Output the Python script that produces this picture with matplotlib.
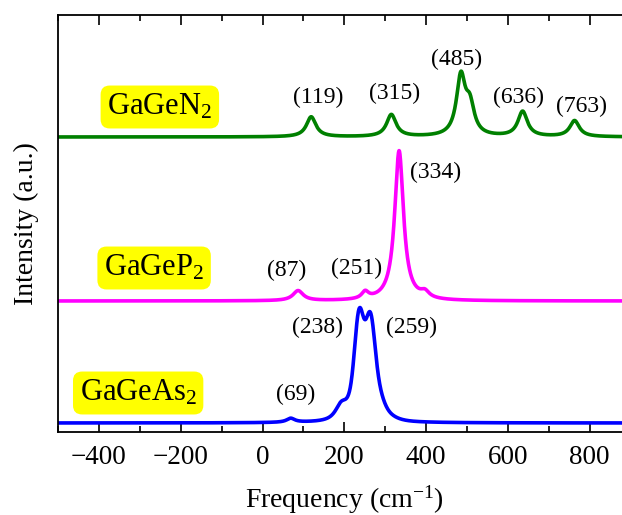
import numpy as np
import matplotlib
matplotlib.use("Agg")
import matplotlib.pyplot as plt
from matplotlib.ticker import MultipleLocator

plt.rcParams['font.family'] = ['Liberation Serif', 'DejaVu Serif']
plt.rcParams['mathtext.fontset'] = 'custom'
plt.rcParams['mathtext.rm'] = 'Liberation Serif'
plt.rcParams['mathtext.it'] = 'Liberation Serif:italic'

# ---- data: peak positions (cm^-1), amplitudes (a.u.), FWHM (cm^-1), Lorentz fraction ----
freq = np.linspace(-500, 900, 2801)

n_pos = [119, 315, 485, 507, 636, 763]
n_amp = [20, 22, 58, 28, 25, 16]
n_fwhm = [28, 28, 26, 26, 28, 28]
n_eta = [1, 1, 1, 1, 1, 1]
n_off = 295

p_pos = [87, 251, 334, 397]
p_amp = [10, 7, 150, 6]
p_fwhm = [30, 20, 26, 25]
p_eta = [1, 1, 1, 1]
p_off = 131

as_pos = [69, 192, 236, 264, 250, 250, 282]
as_amp = [4, 10, 70, 63, 28, 20, 10]
as_fwhm = [24, 30, 24.7, 24.7, 60, 85, 30]
as_eta = [1, 0.7, 0, 0, 1, 0, 0]
as_off = 9

names = ['GaGeN$_2$', 'GaGeP$_2$', 'GaGeAs$_2$']
colors = ['#008000', '#ff00ff', '#0000ff']

n_labels = ['(119)', '(315)', '(485)', '(636)', '(763)']
n_lab_x = [137, 324, 475, 627, 779]
n_lab_y = [335, 339, 373, 335, 326]
p_lab = ['(87)', '(251)', '(334)']
p_lab_x = [60, 231, 423]
p_lab_y = [162, 164, 260]
as_lab = ['(238)', '(259)', '(69)']
as_lab_x = [134, 364, 82]
as_lab_y = [105, 105, 38]


def spectrum(x, pos, amp, fwhm, eta):
    y = np.zeros_like(x)
    for p, a, w, e in zip(pos, amp, fwhm, eta):
        lor = 1 / (1 + ((x - p) / (w / 2)) ** 2)
        gau = np.exp(-4 * np.log(2) * ((x - p) / w) ** 2)
        y += a * (e * lor + (1 - e) * gau)
    return y


fig = plt.figure(figsize=(6.22, 5.15), dpi=100)
W, H = 622, 515
x0, y0, y1 = 58, 432, 15
ppu = 0.409
ax = fig.add_axes([x0 / W, (H - y0) / H, 1400 * ppu / W, (y0 - y1) / H])

ax.plot(freq, n_off + spectrum(freq, n_pos, n_amp, n_fwhm, n_eta), color=colors[0], lw=2.6)
ax.plot(freq, p_off + spectrum(freq, p_pos, p_amp, p_fwhm, p_eta), color=colors[1], lw=2.6)
ax.plot(freq, as_off + spectrum(freq, as_pos, as_amp, as_fwhm, as_eta), color=colors[2], lw=2.6)

ax.set_xlim(-500, 900)
ax.set_ylim(0, 417)
ax.xaxis.set_major_locator(MultipleLocator(200))
ax.xaxis.set_minor_locator(MultipleLocator(100))
ax.set_yticks([])
ax.tick_params(axis='x', which='both', direction='in', top=True, labelsize=19.5, width=1.2)
ax.tick_params(axis='x', which='major', length=7, pad=9)
ax.tick_params(axis='x', which='minor', length=4)
for s in ax.spines.values():
    s.set_linewidth(1.3)

for t, x, y in zip(n_labels, n_lab_x, n_lab_y):
    ax.text(x, y, t, ha='center', va='center', fontsize=17)
for t, x, y in zip(p_lab, p_lab_x, p_lab_y):
    ax.text(x, y, t, ha='center', va='center', fontsize=17)
for t, x, y in zip(as_lab, as_lab_x, as_lab_y):
    ax.text(x, y, t, ha='center', va='center', fontsize=17)

name_x = [-251, -265, -304]
name_y = [325, 164, 39]
for nm, x, y in zip(names, name_x, name_y):
    ax.text(x, y, nm, ha='center', va='center', fontsize=22,
            bbox=dict(boxstyle='round,pad=0.22,rounding_size=0.3', fc='#ffff00', ec='none'))

ax.set_xlabel('Frequency (cm$^{-1}$)', fontsize=20, labelpad=10)
ax.set_ylabel('Intensity (a.u.)', fontsize=20, labelpad=14)

fig.savefig('out.png', dpi=100)
